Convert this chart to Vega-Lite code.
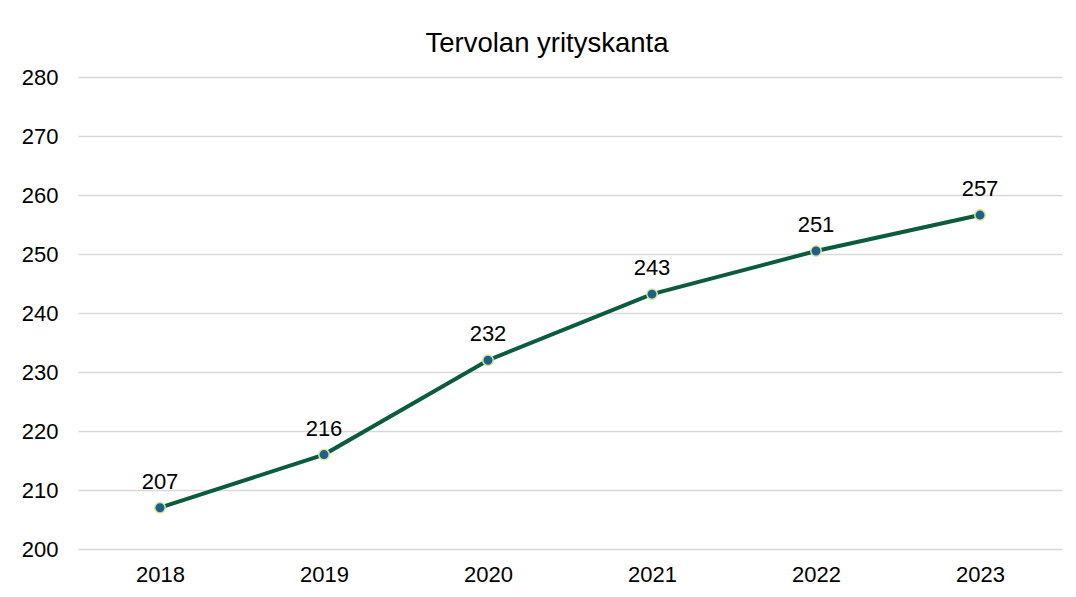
{
  "$schema": "https://vega.github.io/schema/vega-lite/v6.json",
  "autosize": "none",
  "width": 984,
  "height": 472,
  "padding": {"left": 78, "top": 77, "right": 14, "bottom": 48},
  "background": "white",
  "config": {
    "font": "Liberation Sans",
    "view": {"stroke": null}
  },
  "title": {
    "text": "Tervolan yrityskanta",
    "fontSize": 27.5,
    "fontWeight": "normal",
    "color": "#000000",
    "font": "Liberation Sans",
    "anchor": "middle",
    "dx": -23,
    "dy": 38,
    "baseline": "alphabetic",
    "offset": 25
  },
  "data": {
    "values": [
      {"vuosi": "2018", "yritykset": 207},
      {"vuosi": "2019", "yritykset": 216},
      {"vuosi": "2020", "yritykset": 232},
      {"vuosi": "2021", "yritykset": 243.2},
      {"vuosi": "2022", "yritykset": 250.5},
      {"vuosi": "2023", "yritykset": 256.6}
    ]
  },
  "encoding": {
    "x": {
      "field": "vuosi",
      "type": "ordinal",
      "scale": {"type": "point", "padding": 0.5},
      "axis": {
        "title": null,
        "labelAngle": 0,
        "labelFontSize": 22,
        "labelColor": "#000000",
        "labelPadding": 15,
        "domain": false,
        "ticks": false,
        "grid": false
      }
    },
    "y": {
      "field": "yritykset",
      "type": "quantitative",
      "scale": {"domain": [200, 280], "nice": false, "zero": false},
      "axis": {
        "title": null,
        "values": [200, 210, 220, 230, 240, 250, 260, 270, 280],
        "labelFontSize": 22,
        "labelColor": "#000000",
        "labelPadding": 20,
        "domain": false,
        "ticks": false,
        "grid": true,
        "gridColor": "#d9d9d9",
        "gridWidth": 1.5
      }
    }
  },
  "layer": [
    {
      "mark": {"type": "line", "color": "#0a5c3c", "strokeWidth": 4}
    },
    {
      "mark": {"type": "point", "filled": true, "fill": "#1f5f8a", "stroke": "#d6e89a", "strokeWidth": 1.5, "size": 110, "opacity": 1}
    },
    {
      "mark": {"type": "text", "dy": -19, "baseline": "alphabetic", "fontSize": 22, "color": "#000000"},
      "encoding": {
        "text": {"field": "yritykset", "type": "quantitative", "format": ".0f"}
      }
    }
  ]
}
